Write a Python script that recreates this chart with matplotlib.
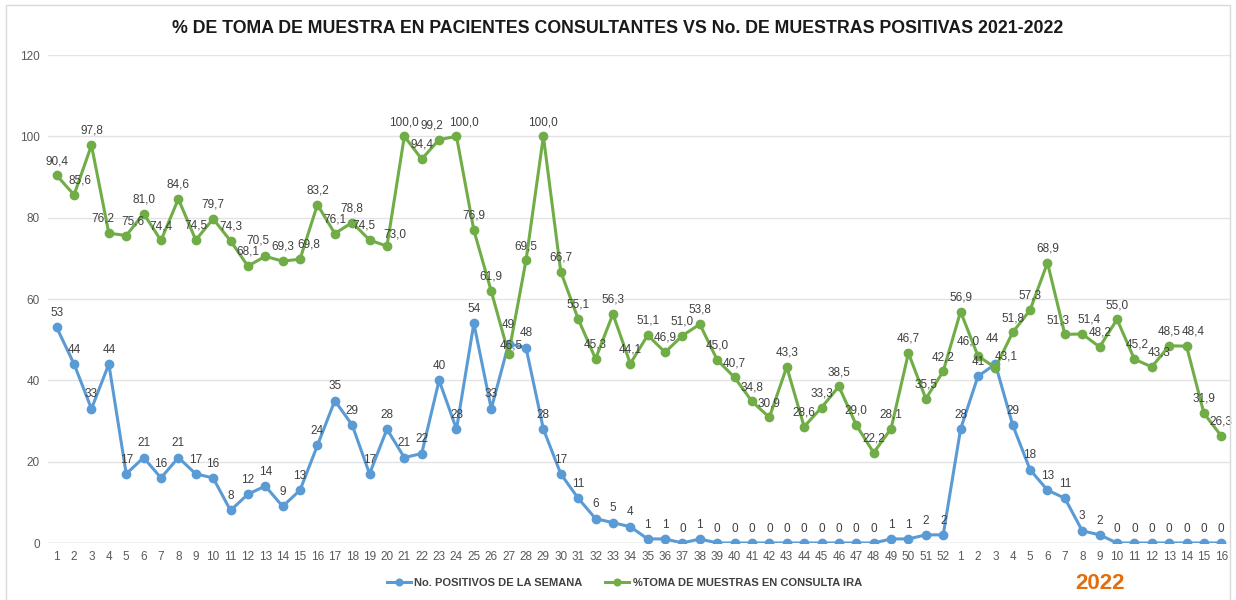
import matplotlib.pyplot as plt
from matplotlib.patches import Rectangle

weeks_2021 = list(range(1, 53))
weeks_2022 = list(range(1, 17))
week_labels = [str(w) for w in weeks_2021 + weeks_2022]

positivos = [53, 44, 33, 44, 17, 21, 16, 21, 17, 16, 8, 12, 14, 9, 13, 24, 35, 29, 17, 28,
             21, 22, 40, 28, 54, 33, 49, 48, 28, 17, 11, 6, 5, 4, 1, 1, 0, 1, 0, 0,
             0, 0, 0, 0, 0, 0, 0, 0, 1, 1, 2, 2,
             28, 41, 44, 29, 18, 13, 11, 3, 2, 0, 0, 0, 0, 0, 0, 0]

toma_muestras = [90.4, 85.6, 97.8, 76.2, 75.6, 81.0, 74.4, 84.6, 74.5, 79.7, 74.3, 68.1, 70.5,
                 69.3, 69.8, 83.2, 76.1, 78.8, 74.5, 73.0, 100.0, 94.4, 99.2, 100.0, 76.9,
                 61.9, 46.5, 69.5, 100.0, 66.7, 55.1, 45.3, 56.3, 44.1, 51.1, 46.9, 51.0,
                 53.8, 45.0, 40.7, 34.8, 30.9, 43.3, 28.6, 33.3, 38.5, 29.0, 22.2, 28.1,
                 46.7, 35.5, 42.2,
                 56.9, 46.0, 43.1, 51.8, 57.3, 68.9, 51.3, 51.4, 48.2, 55.0, 45.2, 43.3,
                 48.5, 48.4, 31.9, 26.3]

plt.rcParams['font.family'] = ['Liberation Sans', 'DejaVu Sans']

blue = '#5B9BD5'
green = '#70AD47'
txt = '#404040'

fig = plt.figure(figsize=(12.36, 6), dpi=100)
fig.patches.append(Rectangle((6 / 1236, -0.01), 1224 / 1236, 1.0 - 5 / 600 + 0.01,
                             transform=fig.transFigure, fill=False,
                             edgecolor='#d9d9d9', linewidth=1))
ax = fig.add_axes([48 / 1236, 57 / 600, 1182 / 1236, 488 / 600])

x = list(range(len(week_labels)))
ax.plot(x, positivos, color=blue, lw=2.2, marker='o', ms=6, label='No. POSITIVOS DE LA SEMANA', zorder=3)
ax.plot(x, toma_muestras, color=green, lw=2.2, marker='o', ms=6,
        label='%TOMA DE MUESTRAS EN CONSULTA IRA', zorder=3)

# small nudges (points) for crowded labels
blue_off = {26: (0, 9), 54: (-2, 14)}
green_off = {1: (4, 6), 3: (-4, 6), 4: (5, 6), 12: (-5, 7), 13: (0, 6), 14: (6, 6),
             18: (-4, 6), 19: (6, 4), 22: (-5, 6), 23: (5, 6), 26: (2, 2), 53: (-7, 6),
             54: (8, 4), 58: (-5, 6), 59: (5, 6), 62: (2, 6), 63: (5, 6), 65: (5, 6)}

for i, v in enumerate(positivos):
    dx, dy = blue_off.get(i, (0, 6))
    ax.annotate(str(v), (i, v), xytext=(dx, dy), textcoords='offset points', ha='center',
                va='bottom', fontsize=8.5, color=txt)
for i, v in enumerate(toma_muestras):
    dx, dy = green_off.get(i, (0, 6))
    ax.annotate(f'{v:.1f}'.replace('.', ','), (i, v), xytext=(dx, dy), textcoords='offset points',
                ha='center', va='bottom', fontsize=8.5, color=txt)

ax.set_xlim(-0.5, len(x) - 0.5)
ax.set_ylim(0, 120)
ax.set_yticks(range(0, 121, 20))
ax.set_xticks(x)
ax.set_xticklabels(week_labels)
ax.tick_params(axis='both', length=0, labelsize=8.5, colors='#595959', pad=6)
ax.tick_params(axis='y', pad=6)
ax.grid(axis='y', color='#e3e3e3', lw=1)
ax.set_axisbelow(True)
for s in ax.spines.values():
    s.set_visible(False)
ax.axhline(0, color='#d9d9d9', lw=1, zorder=1)

fig.text(0.5, 0.952, '% DE TOMA DE MUESTRA EN PACIENTES CONSULTANTES VS No. DE MUESTRAS POSITIVAS 2021-2022',
         ha='center', va='center', fontsize=12.8, fontweight='bold', color='#1a1a1a')

fig.legend(loc='center', bbox_to_anchor=(0.505, 0.028), ncol=2, frameon=False,
           prop={'weight': 'bold', 'size': 8}, labelcolor=txt,
           handlelength=2.2, handletextpad=0.3, columnspacing=2.0, markerscale=0.8)

fig.text(1100 / 1236, 0.028, '2022', ha='center', va='center', fontsize=16,
         fontweight='bold', color='#E46C0A')

fig.savefig('out.png', dpi=100)
